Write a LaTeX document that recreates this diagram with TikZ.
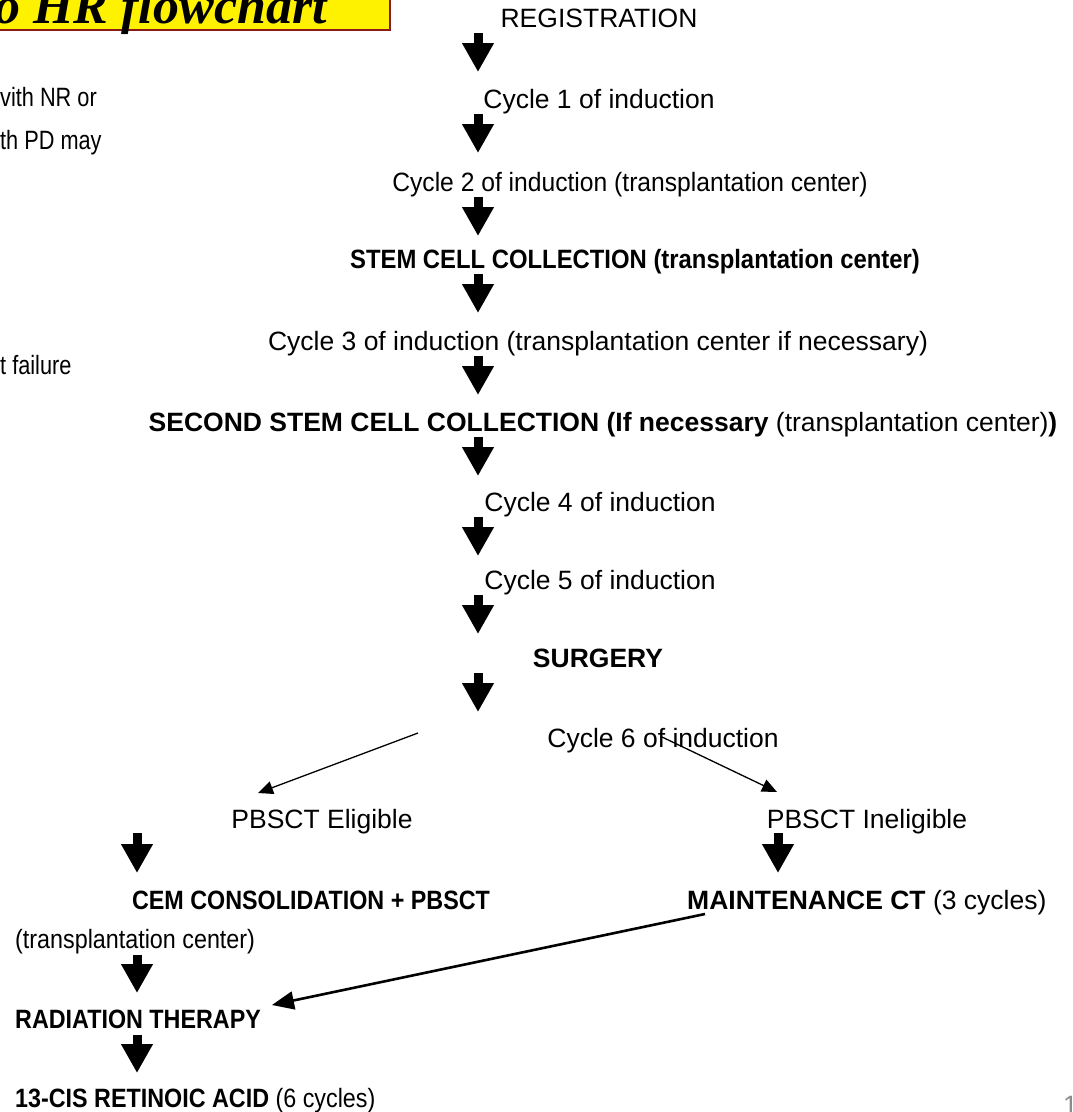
\documentclass[tikz,border=0pt]{standalone}
\usepackage{fontspec}
\setmainfont{Liberation Sans}
\newfontfamily\narrowfont[FakeStretch=0.82]{Liberation Sans}
\newfontfamily\condfont[FakeStretch=0.88]{Liberation Sans}
\newfontfamily\condstem[FakeStretch=0.90]{Liberation Sans}
\newfontfamily\condcyc[FakeStretch=0.93]{Liberation Sans}
\newfontfamily\titlefont{Liberation Serif}
\usetikzlibrary{arrows.meta}
\definecolor{boxred}{HTML}{8B1A1A}
\begin{document}
\begin{tikzpicture}[x=1pt,y=-1pt,
  txt/.style={inner sep=0pt, anchor=base, font=\fontsize{26.5}{30}\selectfont},
  txtw/.style={txt, anchor=base west},
  bld/.style={txt, font=\fontsize{26.5}{30}\selectfont\bfseries},
  bldw/.style={bld, anchor=base west},
  condf/.style={font=\fontsize{26.5}{30}\condfont},
  lefttxt/.style={inner sep=0pt, anchor=base west, font=\fontsize{26.5}{30}\narrowfont},
  blk/.style={line width=9pt, -{Triangle[width=30pt,length=29pt]}},
  thinarr/.style={line width=1.3pt, -{Triangle[width=13pt,length=15pt]}},
  thickarr/.style={line width=2.6pt, -{Triangle[width=18pt,length=22pt]}}]
\useasboundingbox (0,0) rectangle (1072,1112);
\clip (0,0) rectangle (1072,1112);
\fill[white] (0,0) rectangle (1072,1112);
% title box
\draw[boxred, line width=2pt, fill=yellow] (-20,-60) rectangle (390,30);
\node[inner sep=0pt, anchor=base east, font=\fontsize{52}{56}\titlefont\bfseries\itshape] (title) at (327,23) {o HR flowchart};
% column coordinates
\coordinate (colx) at (478,0);
\coordinate (coll) at (137,0);
\coordinate (colr) at (778,0);
% left partial texts
\node[lefttxt] (left1) at (0,106) {vith NR or};
\node[lefttxt] (left2) at (0,149) {th PD may};
\node[lefttxt] (left3) at (0,374) {t failure};
% main column
\node[txt] (reg) at (599,27) {REGISTRATION};
\node[txt] (c1) at (599,108) {Cycle 1 of induction};
\node[txt, font=\fontsize{26.5}{30}\condcyc] (c2) at (630,191) {Cycle 2 of induction (transplantation center)};
\node[txt, font=\fontsize{26.5}{30}\condstem\bfseries] (stem) at (635,268) {STEM CELL COLLECTION (transplantation center)};
\node[txt] (c3) at (598,350) {Cycle 3 of induction (transplantation center if necessary)};
\node[txt] (second) at (603,431) {\bfseries SECOND STEM CELL COLLECTION (If necessary \mdseries(transplantation center)\bfseries)};
\node[txt] (c4) at (600,511) {Cycle 4 of induction};
\node[txt] (c5) at (600,589) {Cycle 5 of induction};
\node[bld] (surg) at (598,667) {SURGERY};
\node[txt] (c6) at (663,747) {Cycle 6 of induction};
\node[txt] (elig) at (322,828) {PBSCT Eligible};
\node[txt] (inelig) at (867,828) {PBSCT Ineligible};
\node[txt, condf] (cem) at (311,909) {\bfseries CEM CONSOLIDATION + PBSCT};
\node[txtw] (maint) at (687,909) {\bfseries MAINTENANCE CT \mdseries(3 cycles)};
\node[txtw, condf] (tc) at (15,948) {(transplantation center)};
\node[txtw, condf] (rad) at (15,1028) {\bfseries RADIATION THERAPY};
\node[txtw, condf] (cis) at (15,1107) {\bfseries 13-CIS RETINOIC ACID \mdseries(6 cycles)};
\node[txtw, text=black!45] (pg) at (1063,1114) {1};
% block arrows
\foreach \n in {reg,c1,c2,stem,c3,second,c4,c5,surg}{
  \draw[blk] (\n.base -| colx) ++(0,6) -- ++(0,39);
}
\draw[blk] (elig.base -| coll) ++(0,5) -- ++(0,40);
\draw[blk] (tc.base -| coll) ++(0,7) -- ++(0,38);
\draw[blk] (rad.base -| coll) ++(0,7) -- ++(0,38);
\draw[blk] (inelig.base -| colr) ++(0,5) -- ++(0,40);
% thin branching arrows
\coordinate (bl) at (418,733);
\coordinate (blend) at (258,793);
\coordinate (br) at (662,737);
\coordinate (brend) at (777,792);
\draw[thinarr] (bl) -- (blend);
\draw[thinarr] (br) -- (brend);
% thick arrow maintenance -> radiation
\coordinate (ms) at (705,914);
\coordinate (re) at (272,1005);
\draw[thickarr] (ms) -- (re);
\end{tikzpicture}
\end{document}
